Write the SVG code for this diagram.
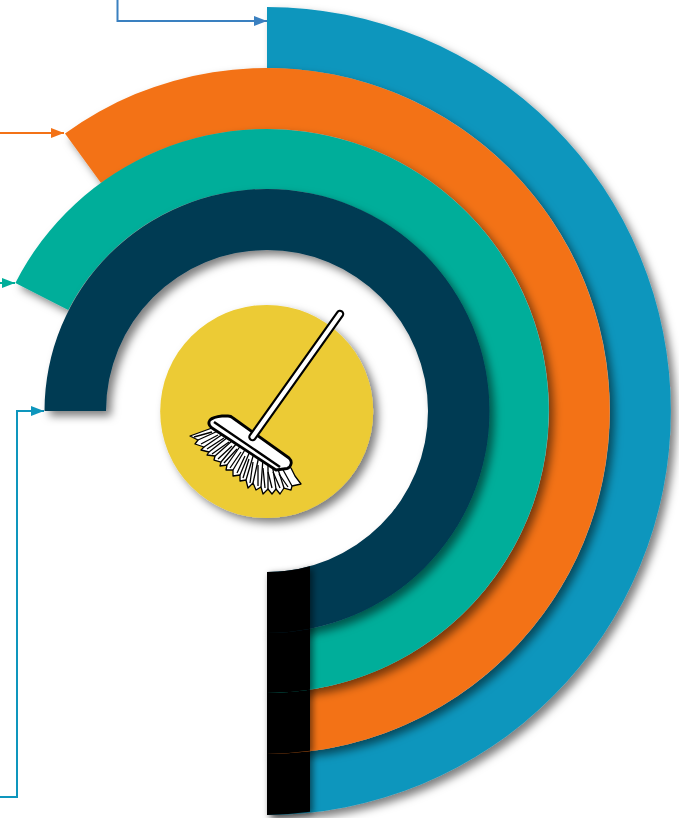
<svg xmlns="http://www.w3.org/2000/svg" width="679" height="818" viewBox="0 0 679 818">
<style>
.conn{fill:none;stroke-width:2}
.blk{fill:#000;filter:url(#sh2)}
.br{fill:#fff;stroke:#000;stroke-width:1.300;stroke-linejoin:round}
</style>
<defs>
<filter id="sh" x="-10%" y="-10%" width="125%" height="125%"><feDropShadow dx="5" dy="5" stdDeviation="4" flood-color="#000" flood-opacity=".5"/></filter>
<filter id="sh2" x="-30%" y="-10%" width="160%" height="125%"><feDropShadow dx="3" dy="2" stdDeviation="3" flood-color="#000" flood-opacity=".5"/></filter>
<marker id="a1" markerWidth="13" markerHeight="10" refX="13" refY="5" orient="auto" markerUnits="userSpaceOnUse"><path d="M0 0L13 5L0 10Z" fill="#3a80c0"/></marker>
<marker id="a2" markerWidth="13" markerHeight="10" refX="13" refY="5" orient="auto" markerUnits="userSpaceOnUse"><path d="M0 0L13 5L0 10Z" fill="#f37216"/></marker>
<marker id="a3" markerWidth="13" markerHeight="10" refX="13" refY="5" orient="auto" markerUnits="userSpaceOnUse"><path d="M0 0L13 5L0 10Z" fill="#00ae9a"/></marker>
<marker id="a4" markerWidth="13" markerHeight="10" refX="13" refY="5" orient="auto" markerUnits="userSpaceOnUse"><path d="M0 0L13 5L0 10Z" fill="#0e96bd"/></marker>
</defs>
<g id="connectors">
<path class="conn" stroke="#3a80c0" marker-end="url(#a1)" d="M117.500 0V21H267"/>
<path class="conn" stroke="#f37216" marker-end="url(#a2)" d="M0 133H64"/>
<path class="conn" stroke="#00ae9a" marker-end="url(#a3)" d="M0 283H15"/>
<path class="conn" stroke="#0e96bd" marker-end="url(#a4)" d="M0 797H17V411H44"/>
</g>
<g id="ring-blue">
<path filter="url(#sh)" fill="#0e96bd" d="M267 7A404 404 0 0 1 267 815V754A343 343 0 0 0 267 68Z"/>
<path class="blk" d="M267 753.500A342.500 342.500 0 0 0 310 750.800V811.700A404 404 0 0 1 267 815Z"/>
</g>
<g id="ring-orange">
<path filter="url(#sh)" fill="#f37216" d="M65 133.500A343 343 0 1 1 267 754V693A282 282 0 1 0 101 183.100Z"/>
<path class="blk" d="M267 692.500A281.500 281.500 0 0 0 310 689.200V750.800A342.500 342.500 0 0 1 267 754Z"/>
</g>
<g id="ring-teal">
<path filter="url(#sh)" fill="#00ae9a" d="M15.400 283A282 282 0 1 1 267 693V633A222 222 0 1 0 68.300 310Z"/>
<path class="blk" d="M267 632.500A221.500 221.500 0 0 0 310 628.300V689.700A282 282 0 0 1 267 693Z"/>
</g>
<g id="ring-navy">
<path filter="url(#sh)" fill="#063a52" d="M44.500 411A222.500 222 0 1 1 267 633V572A161 161 0 1 0 106 411Z"/>
<path class="blk" d="M267 572A161 161 0 0 0 310 566.200V628.800A222 222 0 0 1 267 633Z"/>
</g>
<g id="center">
<circle cx="266.700" cy="411.500" r="106.500" fill="#eccb35" filter="url(#sh)"/>
<g id="broom">
<path class="br" stroke-width="1.800" d="M212 428L190 436L198 440L195 444L204 447L201 450L209 452L207 455L215 456L214 460L221 462L220 466L227 465L226 470L233 470L233 476L240 475L240 481L246 480L248 488L253 483L256 490L261 487L263 494L268 489L272 494L276 489L280 494L284 488L291 490L292 486L301 484L295 476L291 468Z"/>
<g class="br" fill="none">
<path fill="none" d="M198 440L218 431M204 447L223 434M209 452L228 437M215 456L233 440M221 462L237 443M227 465L241 445M233 470L246 448M240 475L250 451M246 480L254 453M253 483L259 456M261 487L263 458M268 489L268 461M276 489L272 463M284 488L277 466M292 486L282 468"/>
<path fill="none" d="M194 437L212 432M201 444L218 435M207 449L224 438M212 454L229 442M218 459L232 446M224 463L237 449M230 468L241 452M237 473L245 456M243 478L249 459M250 483L253 462M258 486L258 465M265 488L263 468M272 488L268 472M280 488L273 472M288 487L279 474"/>
</g>
<path d="M210 420Q213 417 222 416H228Q231 416 233 418L289 458Q292 461 291 464Q290 468 287 468.500L276 470L212 428Q207 424 210 420Z" fill="#fff" stroke="#000" stroke-width="2.800" stroke-linejoin="round"/>
<path d="M214 422L280 467" stroke="#000" stroke-width="2.400" fill="none"/>
<path d="M252.500 437L340 314" stroke="#000" stroke-width="8.500" stroke-linecap="round"/>
<path d="M252.500 437L340 314" stroke="#fff" stroke-width="4.200" stroke-linecap="round"/>
</g>
</g>
</svg>
